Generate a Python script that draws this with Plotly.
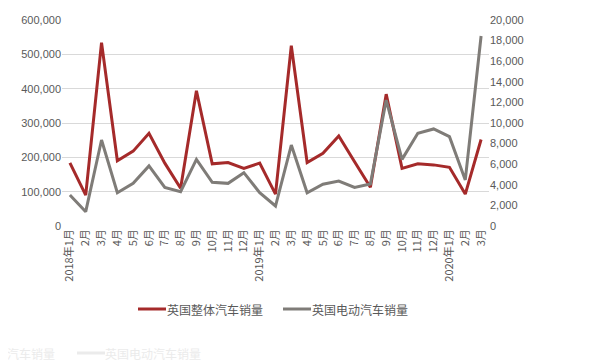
import plotly.graph_objects as go

months = ["2018年1月", "2月", "3月", "4月", "5月", "6月", "7月", "8月", "9月", "10月", "11月", "12月",
          "2019年1月", "2月", "3月", "4月", "5月", "6月", "7月", "8月", "9月", "10月", "11月", "12月",
          "2020年1月", "2月", "3月"]
total_sales = [184000, 90000, 534000, 190000, 218000, 270000, 183000, 110000, 394000, 181000, 185000, 168000,
               183000, 93000, 525000, 185000, 212000, 262000, 187000, 113000, 384000, 168000, 181000, 178000,
               171000, 93000, 252000]
ev_sales = [3010, 1390, 8350, 3230, 4140, 5830, 3750, 3330, 6470, 4240, 4140, 5180,
            3230, 1940, 7860, 3230, 4050, 4370, 3750, 4080, 12230, 6470, 9000, 9420,
            8670, 4470, 18450]
series_names = ["英国整体汽车销量", "英国电动汽车销量"]
series_colors = ["#a52a2a", "#7f7c78"]

left_ticks = [0, 100000, 200000, 300000, 400000, 500000, 600000]
right_ticks = list(range(0, 20001, 2000))

# page has an 8px body margin; plot area in page pixels: x 62..489, y 20..226
PX0, PW, PY0, PH = 62, 427, 226, 206
def px(x):
    return (x - PX0) / PW
def py(y):
    return (PY0 - y) / PH

fig = go.Figure()
fig.add_trace(go.Scatter(x=list(range(len(months))), y=total_sales, name=series_names[0], mode="lines",
                         line=dict(color=series_colors[0], width=3), showlegend=False))
fig.add_trace(go.Scatter(x=list(range(len(months))), y=ev_sales, name=series_names[1], mode="lines",
                         line=dict(color=series_colors[1], width=3), yaxis="y2", showlegend=False))

tickfont = dict(family="Liberation Sans, Arial, Noto Sans CJK SC", size=11, color="#595959")

shapes = []
annotations = []
# custom legend
legend_items = [(138, 166, 167), (283, 311, 312)]
for (lx0, lx1, tx), name, col in zip(legend_items, series_names, series_colors):
    shapes.append(dict(type="line", xref="paper", yref="paper", x0=px(lx0), x1=px(lx1),
                       y0=py(309), y1=py(309), line=dict(color=col, width=3)))
    annotations.append(dict(xref="paper", yref="paper", x=px(tx), y=py(309), text=name, showarrow=False,
                            xanchor="left", yanchor="middle", xshift=-2,
                            font=dict(family="Noto Sans CJK SC", size=12, color="#595959")))
# faint ghost of a legend at the bottom edge
ghost = "#ebebeb"
annotations.append(dict(xref="paper", yref="paper", x=px(57), y=py(353), text="体汽车销量", showarrow=False,
                        xanchor="right", yanchor="middle",
                        font=dict(family="Noto Sans CJK SC", size=12, color=ghost)))
shapes.append(dict(type="line", xref="paper", yref="paper", x0=px(77), x1=px(105), y0=py(353), y1=py(353),
                   line=dict(color=ghost, width=3)))
annotations.append(dict(xref="paper", yref="paper", x=px(105), y=py(353), text="英国电动汽车销量", showarrow=False,
                        xanchor="left", yanchor="middle", xshift=-2,
                        font=dict(family="Noto Sans CJK SC", size=12, color=ghost)))

fig.update_layout(
    width=585, height=353,
    margin=dict(l=54, r=104, t=12, b=135, autoexpand=False),
    paper_bgcolor="white", plot_bgcolor="white",
    font=dict(family="Noto Sans CJK SC, Liberation Sans", size=11, color="#595959"),
    xaxis=dict(tickmode="array", tickvals=list(range(len(months))), ticktext=months,
               tickangle=-90, range=[-0.5, len(months) - 0.5], showgrid=False,
               showline=False, zeroline=False, ticks="",
               tickfont=dict(family="Noto Sans CJK SC", size=11, color="#595959")),
    yaxis=dict(range=[0, 600000], tickvals=left_ticks, tickformat=",", gridcolor="#d9d9d9",
               gridwidth=1, zeroline=False, showline=False, tickfont=tickfont, ticks="",
               ticksuffix="  "),
    yaxis2=dict(range=[0, 20000], tickvals=right_ticks, tickformat=",", overlaying="y", side="right",
                showgrid=False, zeroline=False, showline=False, tickfont=tickfont),
    shapes=shapes,
    annotations=annotations,
    showlegend=False,
)
fig.write_html("out.html")
